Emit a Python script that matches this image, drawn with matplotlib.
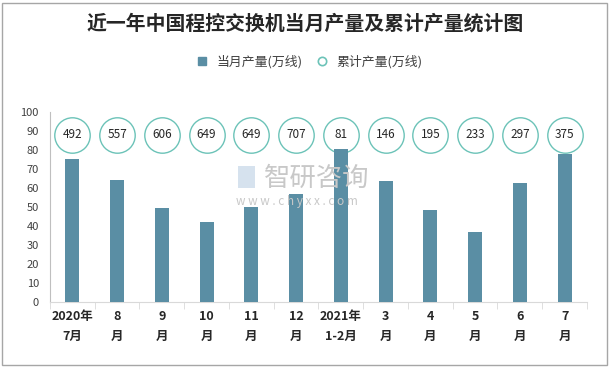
import numpy as np
import matplotlib.pyplot as plt
from matplotlib.patches import Rectangle

plt.rcParams['font.family'] = ['Noto Sans CJK SC', 'DejaVu Sans']

months = ["2020年\n7月", "8\n月", "9\n月", "10\n月", "11\n月", "12\n月",
          "2021年\n1-2月", "3\n月", "4\n月", "5\n月", "6\n月", "7\n月"]
monthly = [75.2, 64.1, 49.5, 42.0, 49.9, 56.8, 80.5, 63.8, 48.5, 36.7, 62.6, 78.0]
cumulative = [492, 557, 606, 649, 649, 707, 81, 146, 195, 233, 297, 375]
circle_level = 88

bar_color = "#5a8ea4"
ring_color = "#6cc3b8"

fig = plt.figure(figsize=(6.14, 3.68), dpi=100)
fig.patches.append(Rectangle((0.004, 0.008), 0.985, 0.985, transform=fig.transFigure,
                             fill=False, edgecolor="#a6a6a6", lw=1.0))
ax = fig.add_axes([0.0814, 0.1793, 0.8746, 0.5163])

x = np.arange(len(months))
ax.plot(x, [circle_level] * len(x), linestyle="none", marker="o", markersize=25.5,
        markerfacecolor="white", markeredgecolor=ring_color, markeredgewidth=1.0, zorder=2)
ax.bar(x, monthly, width=0.31, color=bar_color, zorder=3)
for xi, v in zip(x, cumulative):
    ax.text(xi, circle_level, str(v), ha="center", va="center", fontsize=8.5,
            color="#262626", zorder=4)

ax.set_xlim(-0.5, len(months) - 0.5)
ax.set_ylim(0, 100)
ax.set_yticks(np.arange(0, 101, 10))
ax.tick_params(axis="y", length=0, labelsize=8, colors="#404040", pad=8)
ax.set_xticks(x)
ax.set_xticklabels(months, fontsize=9, fontweight="bold", color="#262626", linespacing=1.7)
ax.tick_params(axis="x", which="major", length=0, pad=6)
ax.set_xticks(np.arange(-0.5, len(months), 1), minor=True)
ax.tick_params(axis="x", which="minor", length=5, color="#d9d9d9")
for s in ["top", "right"]:
    ax.spines[s].set_visible(False)
ax.spines["left"].set_color("#bfbfbf")
ax.spines["bottom"].set_color("#d9d9d9")

# watermark
fig.patches.append(Rectangle((0.388, 0.49), 0.028, 0.06, transform=fig.transFigure,
                             facecolor="#d6e2ee", edgecolor="none", zorder=0))
fig.text(0.43, 0.515, "智研咨询", fontsize=19, color="#c8c8c8", ha="left", va="center", zorder=1)
fig.text(0.385, 0.452, "w w w . c h y x x . c o m", fontsize=8.5, color="#c8c8c8", ha="left", va="center")

fig.text(0.497, 0.938, "近一年中国程控交换机当月产量及累计产量统计图", fontsize=14.3,
         fontweight="bold", ha="center", va="center", color="#262626")

h1 = plt.Line2D([], [], linestyle="none", marker="s", markersize=6, color=bar_color)
h2 = plt.Line2D([], [], linestyle="none", marker="o", markersize=6,
                markerfacecolor="white", markeredgecolor=ring_color, markeredgewidth=1.2)
fig.legend([h1, h2], ["当月产量(万线)", "累计产量(万线)"], loc="center",
           bbox_to_anchor=(0.498, 0.833), ncol=2, frameon=False, fontsize=9.3,
           handletextpad=0.1, columnspacing=0.5, labelcolor="#404040")

fig.savefig("out.png", dpi=100)
